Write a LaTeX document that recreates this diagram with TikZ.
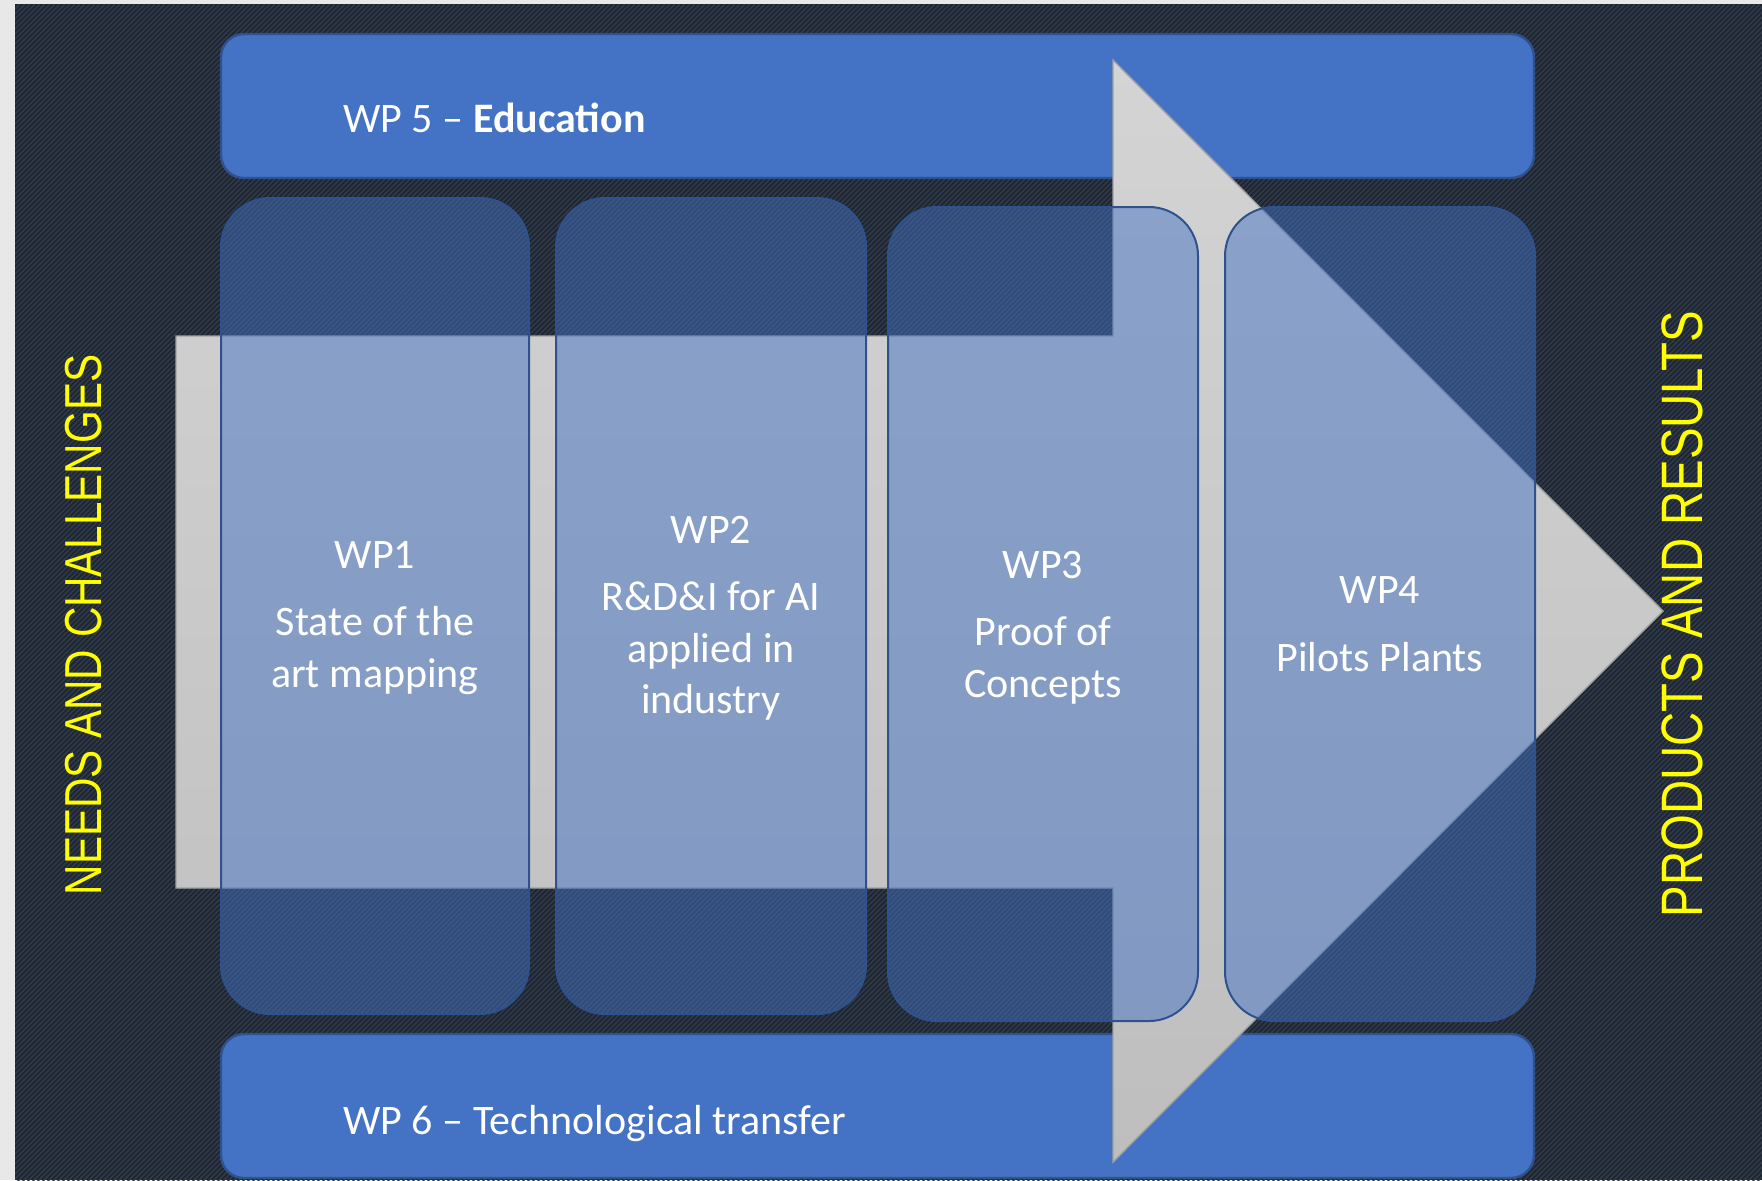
\documentclass[tikz,border=0pt]{standalone}
\usepackage{fontspec}
\setmainfont{Carlito}
\newfontfamily\sidefont[FakeStretch=0.81]{Liberation Sans}
\definecolor{pagegray}{HTML}{E8E8E8}
\definecolor{basedark}{HTML}{1E242D}
\definecolor{stripecol}{HTML}{2F3A4B}
\definecolor{wpblue}{HTML}{4472C4}
\definecolor{wpedge}{HTML}{2F528F}
\definecolor{arrowtop}{HTML}{D4D4D4}
\definecolor{arrowbot}{HTML}{BEBEBE}
\definecolor{arrowedge}{HTML}{A0A0A0}
\definecolor{labelyellow}{HTML}{FFFF00}
\begin{document}
\begin{tikzpicture}[x=0.5pt,y=-0.5pt,
  stripe/.style={draw=stripecol,line width=0.85pt},
  band/.style={fill=wpblue,draw=wpedge,line width=1.2pt,rounded corners=11.5pt},
  column/.style={fill=wpblue,fill opacity=0.5,draw=wpedge,line width=1pt,rounded corners=24.5pt},
  flow/.style={top color=arrowtop,bottom color=arrowbot,draw=arrowedge,line width=0.7pt},
  bandtext/.style={text=white,inner sep=0pt,font=\fontsize{21}{25}\selectfont},
  wptext/.style={text=white,inner sep=0pt,align=center,anchor=north,font=\fontsize{21}{25.75}\selectfont},
  side/.style={text=labelyellow,inner sep=0pt,rotate=90}]
\useasboundingbox (0,0) rectangle (1762,1180);
% page and striped dark background
\fill[pagegray] (0,0) rectangle (1762,1180);
\fill[basedark] (15,4) rectangle (1762,1180);
\begin{scope}
  \clip (15,4) rectangle (1762,1180);
  \foreach \c in {15,20,...,2960} \draw[stripe] (\c,4) -- ++(-1180,1180);
\end{scope}
% horizontal work packages
\draw[band] (221,34) rectangle (1534,178);
\draw[band] (221,1034) rectangle (1534,1178);
\node[bandtext,anchor=base west] (wp5) at (343,132) {WP 5 -- \textbf{Education}};
\node[bandtext,anchor=base west] (wp6) at (343,1134) {WP 6 -- Technological transfer};
% big process arrow
\shadedraw[flow] (176,336) -- (1113,336) -- (1113,60) -- (1663,611)
  -- (1113,1162) -- (1113,888) -- (176,888) -- cycle;
% translucent columns
\draw[column] (221,198) rectangle (529,1014);
\draw[column] (556,198) rectangle (866,1014);
\draw[column] (888,207) rectangle (1198,1021);
\draw[column] (1225,207) rectangle (1535,1021);
\node[wptext] (wp1) at (375,541) {WP1\\[8pt]State of the\\art mapping};
\node[wptext] (wp2) at (711,515.5) {WP2\\[8pt]R\&D\&I for AI\\applied in\\industry};
\node[wptext] (wp3) at (1043,550.5) {WP3\\[8pt]Proof of\\Concepts};
\node[wptext] (wp4) at (1380,576.5) {WP4\\[8pt]Pilots Plants};
% side captions
\node[side,font=\sidefont\fontsize{26}{30}\selectfont] (needs) at (84,625) {NEEDS AND CHALLENGES};
\node[side,font=\sidefont\fontsize{29.2}{34}\selectfont] (products) at (1682,614) {PRODUCTS AND RESULTS};
\end{tikzpicture}
\end{document}
